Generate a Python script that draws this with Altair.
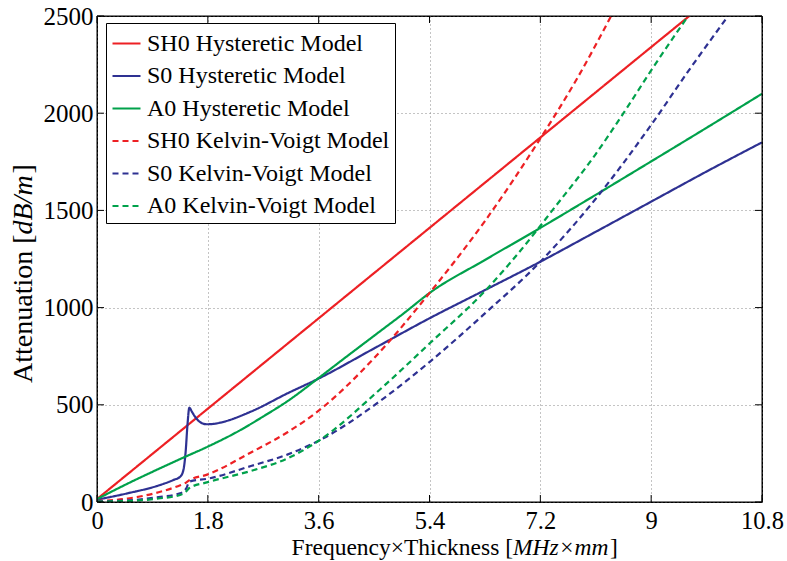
import altair as alt
import pandas as pd

series_names = [
    "SH0 Hysteretic Model",
    "S0 Hysteretic Model",
    "A0 Hysteretic Model",
    "SH0 Kelvin-Voigt Model",
    "S0 Kelvin-Voigt Model",
    "A0 Kelvin-Voigt Model",
]
series_colors = ["#ED2024", "#2E3192", "#00A14B", "#ED2024", "#2E3192", "#00A14B"]
series_dashes = [[1, 0], [1, 0], [1, 0], [6, 4], [6, 4], [6, 4]]

# SH0 hysteretic (red solid)
sh0_h_x = [0, 1.8, 3.6, 5.4, 7.2, 9.0, 9.62]
sh0_h_y = [15, 480, 945, 1410, 1875, 2340, 2500]

# S0 hysteretic (blue solid)
s0_h_x = [0, 0.5, 1.0, 1.24, 1.35, 1.40, 1.44, 1.47, 1.50, 1.54, 1.60, 1.68, 1.78, 1.9, 2.0,
          2.5, 3.1, 3.6, 4.5, 5.4, 6.3, 7.2, 8.1, 9.0, 9.9, 10.8]
s0_h_y = [12, 45, 85, 113, 130, 160, 260, 400, 485, 465, 435, 410, 400, 402, 408,
          465, 560, 635, 790, 945, 1090, 1236, 1390, 1545, 1700, 1850]

# A0 hysteretic (green solid)
a0_h_x = [0, 0.5, 1.0, 1.4, 1.8, 2.3, 2.7, 3.1, 3.6, 4.0, 4.5, 5.0, 5.4, 6.3, 7.2, 8.1, 9.0, 9.9, 10.8]
a0_h_y = [15, 95, 170, 228, 285, 365, 440, 520, 638, 735, 855, 975, 1075, 1245, 1410, 1580, 1752, 1925, 2100]

# SH0 Kelvin-Voigt (red dashed)
sh0_kv_x = [0, 0.5, 1.0, 1.3, 1.42, 1.5, 1.8, 2.5, 3.1, 3.6, 4.5, 5.4, 6.3, 7.2, 7.8, 8.35]
sh0_kv_y = [5, 18, 50, 80, 95, 112, 142, 255, 360, 470, 740, 1075, 1445, 1870, 2180, 2500]

# S0 Kelvin-Voigt (blue dashed)
s0_kv_x = [0, 0.5, 1.0, 1.35, 1.45, 1.5, 1.8, 2.5, 3.1, 3.6, 4.6, 5.4, 6.3, 7.2, 8.1, 9.0, 9.6, 10.25]
s0_kv_y = [3, 8, 25, 45, 70, 105, 120, 185, 245, 315, 520, 720, 970, 1236, 1560, 1940, 2215, 2500]

# A0 Kelvin-Voigt (green dashed)
a0_kv_x = [0, 0.5, 1.0, 1.35, 1.45, 1.5, 1.8, 2.5, 3.1, 3.6, 4.6, 5.4, 6.3, 7.15, 7.36, 8.1, 8.55, 9.0, 9.6]
a0_kv_y = [2, 5, 18, 36, 55, 72, 102, 160, 225, 315, 580, 815, 1085, 1400, 1486, 1790, 2000, 2220, 2500]

x_ticks = [0, 1.8, 3.6, 5.4, 7.2, 9, 10.8]
y_ticks = [0, 500, 1000, 1500, 2000, 2500]

x_title_main = "Frequency×Thickness ["
x_title_unit = "MHz×mm"
x_title_end = "]"
y_title_main = "Attenuation ["
y_title_unit = "dB/m"
y_title_end = "]"

FONT = "Liberation Serif"
W, H = 665, 486

all_x = [sh0_h_x, s0_h_x, a0_h_x, sh0_kv_x, s0_kv_x, a0_kv_x]
all_y = [sh0_h_y, s0_h_y, a0_h_y, sh0_kv_y, s0_kv_y, a0_kv_y]
rows = []
for name, xs, ys in zip(series_names, all_x, all_y):
    for i, (xv, yv) in enumerate(zip(xs, ys)):
        rows.append({"series": name, "x": xv, "y": yv, "i": i})
df = pd.DataFrame(rows)

xscale = alt.Scale(domain=[0, 10.8], nice=False, zero=False)
yscale = alt.Scale(domain=[0, 2500], nice=False)

x_axis = alt.Axis(
    values=x_ticks, title=None, labelExpr="toString(datum.value)",
    grid=True, gridColor="#888888", gridDash=[1, 3], gridWidth=1, gridOpacity=1,
    ticks=False, tickSize=0, domain=False, labelFlush=False,
    labelOverlap=False, labelBaseline="alphabetic", labelPadding=26,
    labelFont=FONT, labelFontSize=24.5, labelColor="black")
y_axis = alt.Axis(
    values=y_ticks, title=None, format="d",
    grid=True, gridColor="#888888", gridDash=[1, 3], gridWidth=1, gridOpacity=1,
    ticks=False, tickSize=0, domain=False, labelFlush=False,
    labelOverlap=False, labelPadding=4,
    labelFont=FONT, labelFontSize=25, labelColor="black")

legend = alt.Legend(
    title=None, orient="none", legendX=9, legendY=7,
    fillColor="white", strokeColor="black", padding=5, cornerRadius=0,
    labelFont=FONT, labelFontSize=24, labelColor="black", labelOffset=5,
    symbolType="stroke", symbolSize=784, symbolStrokeWidth=2.2, rowPadding=4.5,
    labelLimit=400)

lines = alt.Chart(df).mark_line(strokeWidth=2.2, clip=True, interpolate="monotone").encode(
    x=alt.X("x:Q", scale=xscale, axis=x_axis),
    y=alt.Y("y:Q", scale=yscale, axis=y_axis),
    color=alt.Color("series:N", scale=alt.Scale(domain=series_names, range=series_colors),
                    legend=legend),
    strokeDash=alt.StrokeDash("series:N", scale=alt.Scale(domain=series_names, range=series_dashes),
                              legend=legend),
    order="i:Q",
)

xt = pd.DataFrame({"x": x_ticks})
yt = pd.DataFrame({"y": y_ticks})
tick_b = alt.Chart(xt).mark_rule(color="black", strokeWidth=1).encode(
    x=alt.X("x:Q", scale=xscale, axis=x_axis), y=alt.value(H), y2=alt.value(H - 7))
tick_t = alt.Chart(xt).mark_rule(color="black", strokeWidth=1).encode(
    x=alt.X("x:Q", scale=xscale, axis=x_axis), y=alt.value(0), y2=alt.value(7))
tick_l = alt.Chart(yt).mark_rule(color="black", strokeWidth=1).encode(
    y=alt.Y("y:Q", scale=yscale, axis=y_axis), x=alt.value(0), x2=alt.value(7))
tick_r = alt.Chart(yt).mark_rule(color="black", strokeWidth=1).encode(
    y=alt.Y("y:Q", scale=yscale, axis=y_axis), x=alt.value(W), x2=alt.value(W - 7))

frame_df = pd.DataFrame({"k": [0]})
frame_top = alt.Chart(frame_df).mark_rule(color="black", strokeWidth=1).encode(
    x=alt.value(0), x2=alt.value(W), y=alt.value(0))
frame_right = alt.Chart(frame_df).mark_rule(color="black", strokeWidth=1).encode(
    x=alt.value(W), y=alt.value(0), y2=alt.value(H))
frame_left = alt.Chart(frame_df).mark_rule(color="black", strokeWidth=1).encode(
    x=alt.value(0), y=alt.value(0), y2=alt.value(H))
frame_bottom = alt.Chart(frame_df).mark_rule(color="black", strokeWidth=1).encode(
    x=alt.value(0), x2=alt.value(W), y=alt.value(H))


def txt(s, x, y, angle=0, align="left", italic=False, size=26):
    return alt.Chart(pd.DataFrame({"t": [s]})).mark_text(
        font=FONT, fontSize=size, fontStyle="italic" if italic else "normal",
        align=align, baseline="alphabetic", angle=angle, color="black",
    ).encode(text="t:N", x=alt.value(x), y=alt.value(y))


xs_size = 23.5
x_split = 416
x_base = 539
x_t1 = txt(x_title_main, x_split, x_base, align="right", size=xs_size)
x_t2 = txt(x_title_unit, x_split, x_base, align="left", italic=True, size=xs_size)
x_t3 = txt(x_title_end, x_split + 97, x_base, align="left", size=xs_size)

ys_size = 28
y_start = 367
y_t1 = txt(y_title_main, -65, y_start, angle=270, align="left", size=ys_size)
y_t2 = txt(y_title_unit, -65, y_start - 148.5, angle=270, align="left", italic=True, size=ys_size)
y_t3 = txt(y_title_end, -65, y_start - 148.5 - 61, angle=270, align="left", size=ys_size)

chart = alt.layer(
    lines, tick_b, tick_t, tick_l, tick_r,
    frame_top, frame_right, frame_left, frame_bottom,
    x_t1, x_t2, x_t3, y_t1, y_t2, y_t3,
).properties(
    width=W, height=H,
    autosize=alt.AutoSizeParams(type="none"),
    padding={"left": 97, "top": 16, "right": 25, "bottom": 59},
).configure_view(
    stroke="black", strokeWidth=1,
)

chart.save("out.html", embed_options={"renderer": "svg", "actions": False})
